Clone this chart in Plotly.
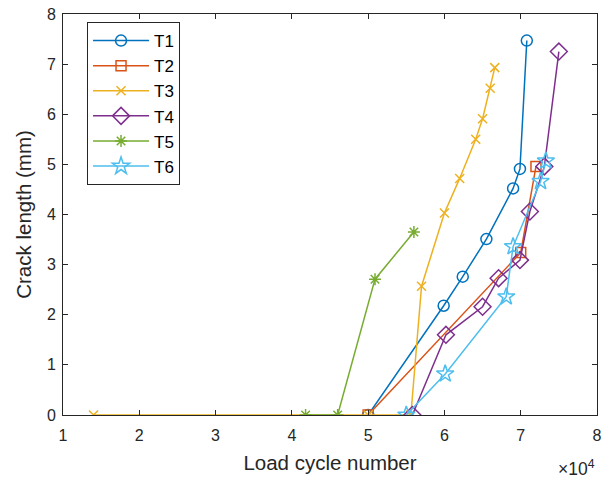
import plotly.graph_objects as go

# Data (load cycles, crack length in mm)
t1_x = [50000, 59900, 62400, 65500, 69000, 69900, 70800]
t1_y = [0, 2.18, 2.76, 3.51, 4.52, 4.91, 7.47]

t2_x = [50000, 70000, 72000]
t2_y = [0, 3.24, 4.96]

t3_x = [14000, 50000, 55600, 57000, 60000, 62000, 64100, 65000, 66000, 66600]
t3_y = [0, 0, 0, 2.57, 4.03, 4.72, 5.50, 5.91, 6.52, 6.93]

t4_x = [55800, 60200, 65000, 67100, 69900, 71200, 73100, 75000]
t4_y = [0, 1.60, 2.16, 2.73, 3.09, 4.06, 4.96, 7.25]

t5_x = [41800, 46000, 50900, 56000]
t5_y = [0, 0, 2.71, 3.65]

t6_x = [55000, 60100, 68100, 69000, 72600, 73300]
t6_y = [0, 0.82, 2.36, 3.36, 4.66, 5.07]

names = ["T1", "T2", "T3", "T4", "T5", "T6"]
colors = ["#0072BD", "#D95319", "#EDB120", "#7E2F8E", "#77AC30", "#4DBEEE"]
symbols = ["circle-open", "square-open", "x-thin-open", "diamond-open", "asterisk-open", "star-open"]
sizes = [11, 10, 9, 13, 10, 13]
xs = [t1_x, t2_x, t3_x, t4_x, t5_x, t6_x]
ys = [t1_y, t2_y, t3_y, t4_y, t5_y, t6_y]

x_ticks = [10000, 20000, 30000, 40000, 50000, 60000, 70000, 80000]
x_ticklabels = ["1", "2", "3", "4", "5", "6", "7", "8"]
y_ticks = [0, 1, 2, 3, 4, 5, 6, 7, 8]

fig = go.Figure()
for x, y, n, c, s, sz in zip(xs, ys, names, colors, symbols, sizes):
    fig.add_trace(go.Scatter(
        x=x, y=y, name=n, mode="lines+markers",
        line=dict(color=c, width=1.5),
        marker=dict(symbol=s, size=sz, color=c, line=dict(color=c, width=1.5)),
    ))

FONT = "Liberation Sans, Arial, sans-serif"
axis_common = dict(
    showgrid=False, zeroline=False, showline=True, linecolor="#262626", linewidth=1,
    mirror="ticks", ticks="inside", ticklen=5, tickcolor="#262626", automargin=False,
    tickfont=dict(family=FONT, size=16, color="#262626"),
)

fig.update_layout(
    width=605, height=479,
    margin=dict(l=63, r=8, t=14, b=64),
    paper_bgcolor="white", plot_bgcolor="white",
    font=dict(family=FONT, color="#262626"),
    xaxis=dict(range=[10000, 80000], tickvals=x_ticks, ticktext=x_ticklabels,
               ticklabelstandoff=6,
               title=dict(text="Load cycle number", font=dict(size=20.5), standoff=12),
               **axis_common),
    yaxis=dict(range=[0, 8], tickvals=y_ticks, ticklabelstandoff=3,
               title=dict(text="Crack length (mm)", font=dict(size=20.5), standoff=9),
               **axis_common),
    legend=dict(x=0.045, y=0.98, xanchor="left", yanchor="top",
                bgcolor="white", bordercolor="#262626", borderwidth=1,
                font=dict(size=17, color="#000000"), itemwidth=56,
                tracegroupgap=0),
    annotations=[dict(text="×10<sup>4</sup>", x=1.0, y=-0.1, xref="paper", yref="paper",
                      xanchor="right", yanchor="top", showarrow=False,
                      font=dict(size=17.5, color="#262626"))],
)

fig.write_html("out.html")
